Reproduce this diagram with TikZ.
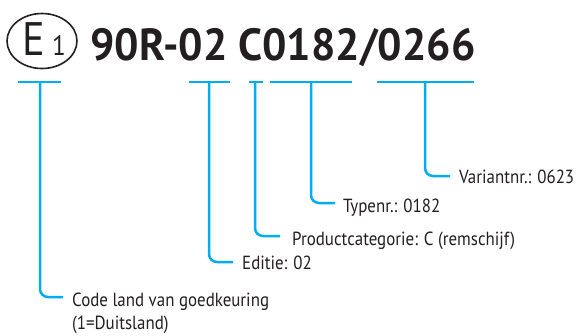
\documentclass[tikz,border=0pt]{standalone}
\usepackage{fontspec}
\setmainfont{PT Sans}
\usetikzlibrary{shapes.geometric}
\definecolor{lineblue}{HTML}{00AEEF}
\definecolor{ink}{HTML}{231F20}
\newcommand{\labtxt}[1]{\scalebox{0.89}[1]{#1}}
\begin{document}
\begin{tikzpicture}[x=1pt,y=-1pt,
  bar/.style={lineblue,line width=2.5pt},
  conn/.style={lineblue,line width=2.5pt,rounded corners=8pt},
  lab/.style={anchor=base west,inner sep=0pt,text=ink,font=\fontsize{19}{26}\selectfont},
  title/.style={anchor=base west,inner sep=0pt,text=ink},
]
\useasboundingbox (0,0) rectangle (576,335);
% emblem
\node[draw=ink,line width=1.6pt,ellipse,minimum width=70pt,minimum height=55pt,inner sep=0pt] (circ) at (42,41) {};
\node[title,font=\fontsize{47}{47}\selectfont] (E) at (22,55) {\scalebox{0.9}[1]{E}};
\node[title,font=\fontsize{28}{28}\selectfont] (one) at (52,55) {\scalebox{0.9}[1]{1}};
\node[title,font=\fontsize{45}{45}\bfseries] (code) at (90,60) {\scalebox{0.957}[1]{90R-02 C0182/0266}};
% bars
\coordinate (b1l) at (18,82); \coordinate (b1r) at (61,82); \coordinate (v1) at (40,82);
\coordinate (b2l) at (189,82); \coordinate (b2r) at (230,82); \coordinate (v2) at (209,82);
\coordinate (b3l) at (249,82); \coordinate (b3r) at (263,82); \coordinate (v3) at (255,82);
\coordinate (b4l) at (270,82); \coordinate (b4r) at (352,82); \coordinate (v4) at (311,82);
\coordinate (b5l) at (377,82); \coordinate (b5r) at (474,82); \coordinate (v5) at (425,82);
\foreach \i in {1,...,5} {\draw[bar] (b\i l) -- (b\i r);}
% labels
\node[lab] (lab5) at (459,183) {\labtxt{Variantnr.: 0623}};
\node[lab] (lab4) at (343,212) {\labtxt{Typenr.: 0182}};
\node[lab] (lab3) at (292,245) {\labtxt{Productcategorie: C (remschijf)}};
\node[lab] (lab2) at (242,269) {\labtxt{Editie: 02}};
\node[lab] (lab1) at (72,306) {\labtxt{Code land van goedkeuring}};
\node[lab] (lab1b) at (72,329) {\labtxt{(1=Duitsland)}};
% connectors
\draw[conn] (v5) |- ([xshift=-9pt,yshift=7pt]lab5.base west);
\draw[conn] (v4) |- ([xshift=-8pt,yshift=9pt]lab4.base west);
\draw[conn] (v3) |- ([xshift=-12pt,yshift=9pt]lab3.base west);
\draw[conn] (v2) |- ([xshift=-9pt,yshift=7pt]lab2.base west);
\draw[conn] (v1) |- ([xshift=-9pt,yshift=9pt]lab1.base west);
\end{tikzpicture}
\end{document}
